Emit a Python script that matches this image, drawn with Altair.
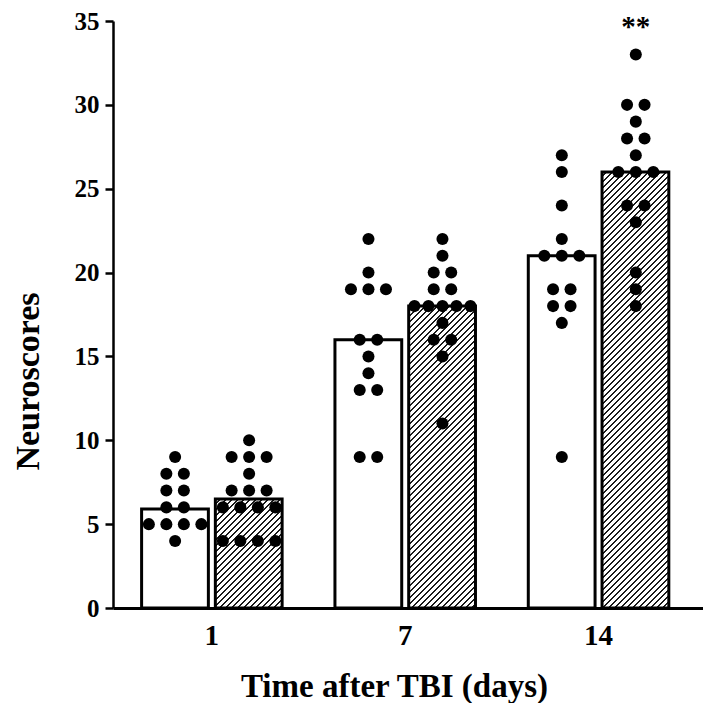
import altair as alt
import pandas as pd

# ---------------- data ----------------
days = ["1", "7", "14"]
series = ["Vehicle", "Treated"]
bar_vehicle = [5.9, 16, 21]
bar_treated = [6.5, 18, 26]

dots_vehicle_d1 = [9, 8, 8, 7, 7, 6, 6, 5, 5, 5, 5, 4]
dots_treated_d1 = [10, 9, 9, 9, 8, 7, 7, 7, 6, 6, 6, 6, 4, 4, 4, 4]
dots_vehicle_d7 = [22, 20, 19, 19, 19, 16, 16, 15, 14, 13, 13, 9, 9]
dots_treated_d7 = [22, 21, 20, 20, 19, 19, 18, 18, 18, 18, 18, 17, 16, 16, 15, 11]
dots_vehicle_d14 = [27, 26, 24, 22, 21, 21, 21, 19, 19, 18, 18, 17, 9]
dots_treated_d14 = [33, 30, 30, 29, 28, 28, 27, 26, 26, 26, 24, 24, 23, 20, 19, 18]

star_day, star_series, star_text = "14", "Treated", "**"

# ---------------- layout / style ----------------
W, H = 590, 587
TOP = 13
YMAX = 35
BW, GAP = 67, 7          # bar width, gap between the pair
STEP, BAND = 194, 148    # group step and group band width
FONT = "Liberation Serif"

pi_x = 1 - BAND / STEP
po_x = (592 / STEP - 3 + pi_x) / 2
pi_o = 1 - BW / (BW + GAP)
po_o = pi_o / 2
centers = {"Vehicle": (BAND - 2 * BW - GAP) / 2 + BW / 2}
centers["Treated"] = centers["Vehicle"] + BW + GAP

bars = pd.DataFrame({
    "day": days * 2,
    "series": ["Vehicle"] * 3 + ["Treated"] * 3,
    "value": bar_vehicle + bar_treated,
})

groups = [
    ("1", "Vehicle", dots_vehicle_d1), ("1", "Treated", dots_treated_d1),
    ("7", "Vehicle", dots_vehicle_d7), ("7", "Treated", dots_treated_d7),
    ("14", "Vehicle", dots_vehicle_d14), ("14", "Treated", dots_treated_d14),
]
rows = []
for d, s, vals in groups:
    for v in sorted(set(vals), reverse=True):
        n = vals.count(v)
        sp = 17.5 if n <= 4 else 14
        for k in range(n):
            rows.append({"day": d, "series": s, "value": v,
                         "off": centers[s] + (k - (n - 1) / 2) * sp})
dots = pd.DataFrame(rows)

star_val = max(dots_treated_d14)
star = pd.DataFrame({"day": [star_day], "series": [star_series],
                     "value": [star_val], "off": [centers[star_series]],
                     "label": [star_text]})


def hatch(value):
    h = value / YMAX * H
    w = BW
    r = h / w
    a = (1 + r) / (1 + r * r)
    L = w + h
    P, D = 6.0, 2.0
    st = []
    s = 0.0
    while s < L:
        st += [(s, "#ffffff"), (s + P - D, "#ffffff"), (s + P - D, "#1a1a1a"), (s + P, "#1a1a1a")]
        s += P
    stops = [{"offset": min(o / L, 1.0), "color": c} for o, c in st]
    return {"gradient": "linear", "x1": 0, "y1": 0, "x2": a, "y2": a * r, "stops": stops}


x_enc = alt.X("day:N", sort=days,
              scale=alt.Scale(domain=days, paddingInner=pi_x, paddingOuter=po_x, align=0.45),
              axis=alt.Axis(title="Time after TBI (days)", labelAngle=0, ticks=False, tickSize=0,
                            domainWidth=3, domainColor="black",
                            labelFont=FONT, labelFontWeight="bold", labelFontSize=29,
                            labelColor="black", labelPadding=13,
                            titleFont=FONT, titleFontWeight="bold", titleFontSize=33,
                            titleColor="black", titlePadding=20, titleX=281))
y_enc = alt.Y("value:Q", scale=alt.Scale(domain=[0, YMAX], nice=False),
              axis=alt.Axis(title="Neuroscores", values=list(range(0, 36, 5)), grid=False,
                            domainWidth=2.5, domainColor="black", tickWidth=2.5, tickSize=8,
                            tickColor="black", labelFont=FONT, labelFontWeight="bold",
                            labelFontSize=25, labelColor="black", labelPadding=6,
                            titleFont=FONT, titleFontWeight="bold", titleFontSize=34,
                            titleColor="black", titlePadding=29, titleY=360))
off_band = alt.XOffset("series:N", sort=series,
                       scale=alt.Scale(domain=series, paddingInner=pi_o, paddingOuter=po_o))
off_q = alt.XOffset("off:Q", scale=alt.Scale(domain=[0, BAND], range=[0, BAND]))

layers = []
layers.append(
    alt.Chart(bars).transform_filter(alt.datum.series == "Vehicle")
    .mark_bar(fill="white", stroke="black", strokeWidth=3)
    .encode(x=x_enc, y=y_enc, xOffset=off_band)
)
for d, v in zip(days, bar_treated):
    layers.append(
        alt.Chart(bars).transform_filter((alt.datum.series == "Treated") & (alt.datum.day == d))
        .mark_bar(fill=hatch(v), stroke="black", strokeWidth=3)
        .encode(x=x_enc, y=y_enc, xOffset=off_band)
    )
layers.append(
    alt.Chart(dots).mark_circle(size=145, color="black", opacity=1)
    .encode(x=x_enc, y=y_enc, xOffset=off_q)
)
layers.append(
    alt.Chart(star).mark_text(font=FONT, fontWeight="bold", fontSize=29, color="black",
                              baseline="middle", dy=-28)
    .encode(x=x_enc, y=y_enc, xOffset=off_q, text="label:N")
)

chart = (
    alt.layer(*layers)
    .resolve_scale(xOffset="independent")
    .properties(width=W, height=H,
                autosize=alt.AutoSizeParams(type="none"),
                padding={"left": 105, "top": TOP, "right": 0, "bottom": 95})
    .configure_view(stroke=None)
)

chart.save("out.html", embed_options={"renderer": "svg", "actions": False})
